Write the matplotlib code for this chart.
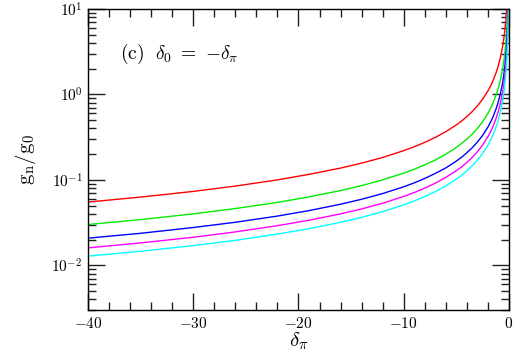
import matplotlib
matplotlib.use("Agg")
import matplotlib.pyplot as plt
from matplotlib.ticker import MultipleLocator, LogLocator, NullFormatter

# delta_pi values and g_n/g_0 for the five curves
delta_pi = [-40, -35, -30, -26, -22, -19, -16, -14, -12, -10,
            -9, -8, -7, -6, -5, -4.5, -4, -3.5, -3, -2.5,
            -2, -1.7, -1.5, -1.2, -1, -0.8, -0.6, -0.5, -0.4, -0.3,
            -0.25, -0.2, -0.15, -0.1, -0.05]

g_red = [0.055, 0.0629, 0.0733, 0.0846, 0.1, 0.116, 0.1375, 0.157, 0.183, 0.22,
         0.244, 0.275, 0.314, 0.367, 0.44, 0.489, 0.55, 0.629, 0.733, 0.88,
         1.1, 1.29, 1.47, 1.83, 2.2, 2.75, 3.67, 4.4, 5.5, 7.33,
         8.8, 11, 14.7, 22, 44]
g_green = [0.030, 0.0343, 0.040, 0.0462, 0.0545, 0.0632, 0.075, 0.0857, 0.10, 0.12,
           0.133, 0.15, 0.171, 0.20, 0.24, 0.267, 0.30, 0.343, 0.40, 0.48,
           0.60, 0.706, 0.80, 1.0, 1.2, 1.5, 2.0, 2.4, 3.0, 4.0,
           4.8, 6.0, 8.0, 12, 24]
g_blue = [0.0208, 0.0237, 0.0277, 0.0319, 0.0377, 0.0437, 0.0519, 0.0593, 0.0692, 0.083,
          0.0922, 0.104, 0.119, 0.138, 0.166, 0.184, 0.208, 0.237, 0.277, 0.332,
          0.415, 0.488, 0.553, 0.692, 0.83, 1.04, 1.38, 1.66, 2.08, 2.77,
          3.32, 4.15, 5.53, 8.3, 16.6]
g_magenta = [0.016, 0.0183, 0.0213, 0.0246, 0.0291, 0.0337, 0.040, 0.0457, 0.0533, 0.064,
             0.0711, 0.080, 0.0914, 0.107, 0.128, 0.142, 0.16, 0.183, 0.213, 0.256,
             0.32, 0.376, 0.427, 0.533, 0.64, 0.80, 1.07, 1.28, 1.6, 2.13,
             2.56, 3.2, 4.27, 6.4, 12.8]
g_cyan = [0.0128, 0.0146, 0.017, 0.0196, 0.0232, 0.0268, 0.0319, 0.0364, 0.0425, 0.051,
          0.0567, 0.0638, 0.0729, 0.085, 0.102, 0.113, 0.128, 0.146, 0.17, 0.204,
          0.255, 0.3, 0.34, 0.425, 0.51, 0.638, 0.85, 1.02, 1.28, 1.7,
          2.04, 2.55, 3.4, 5.1, 10.2]

series = [g_red, g_green, g_blue, g_magenta, g_cyan]
colors = ['#ff0000', '#00ee00', '#0000ff', '#ff00ff', '#00ffff']


def main():
    plt.rcParams['mathtext.fontset'] = 'cm'
    plt.rcParams['font.family'] = 'DejaVu Serif'

    fig = plt.figure(figsize=(5.14, 3.54), dpi=100)
    ax = fig.add_axes([0.1712, 0.1243, 0.8190, 0.8503])

    for g, c in zip(series, colors):
        ax.plot(delta_pi, g, color=c, lw=1.0)

    ax.set_yscale('log')
    ax.set_xlim(-40, 0)
    ax.set_ylim(3e-3, 10)

    ax.xaxis.set_major_locator(MultipleLocator(10))
    ax.xaxis.set_minor_locator(MultipleLocator(2))
    ax.yaxis.set_minor_locator(LogLocator(base=10, subs=range(2, 10), numticks=20))
    ax.yaxis.set_minor_formatter(NullFormatter())
    ax.set_xticks([-40, -30, -20, -10, 0])
    ax.set_xticklabels([r'$-40$', r'$-30$', r'$-20$', r'$-10$', r'$0$'])
    ax.set_yticks([1e-2, 1e-1, 1, 10])
    ax.set_yticklabels([r'$10^{-2}$', r'$10^{-1}$', r'$10^{0}$', r'$10^{1}$'])

    ax.tick_params(which='both', direction='in', top=True, right=True,
                   labelsize=11, width=1.0, color='#222222')
    ax.tick_params(which='major', length=12, pad=4)
    ax.tick_params(which='minor', length=6)
    for s in ax.spines.values():
        s.set_linewidth(1.0)

    ax.set_xlabel(r'$\delta_\pi$', fontsize=15, labelpad=0)
    ax.set_ylabel(r'$\mathrm{g}_\mathrm{n}/\mathrm{g}_0$', fontsize=15, labelpad=10)
    ax.text(0.075, 0.835, r'$\mathrm{(c)}\ \ \delta_0\ =\ {-}\delta_\pi$',
            transform=ax.transAxes, fontsize=14)

    fig.savefig('out.png', dpi=100)


if __name__ == '__main__':
    main()
